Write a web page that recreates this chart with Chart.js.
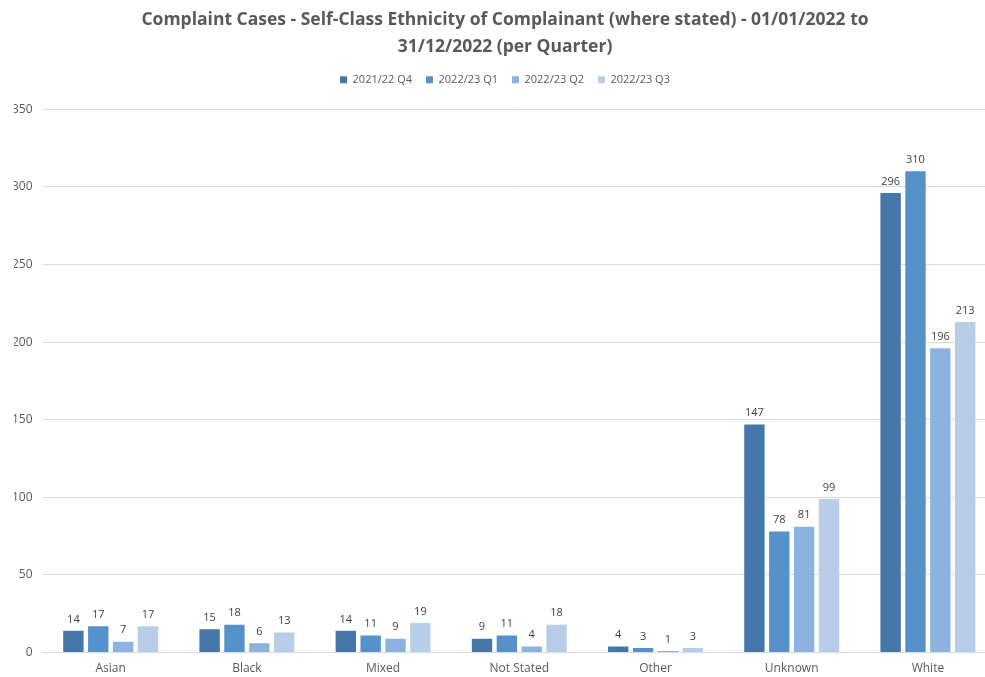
<!DOCTYPE html>
<html>
<head>
<meta charset="utf-8">
<script src="https://cdn.jsdelivr.net/npm/chart.js@4"></script>
<style>
	html, body { margin: 0; padding: 0; background: #fff; }
	#wrap { width: 985px; height: 677px; overflow: hidden; }
</style>
</head>
<body>
<div id="wrap"><canvas id="complaintsChart" width="1024" height="686"></canvas></div>
<script>
const categories = ["Asian", "Black", "Mixed", "Not Stated", "Other", "Unknown", "White"];
const seriesNames = ["2021/22 Q4", "2022/23 Q1", "2022/23 Q2", "2022/23 Q3"];
const q4_2122 = [14, 15, 14, 9, 4, 147, 296];
const q1_2223 = [17, 18, 11, 11, 3, 78, 310];
const q2_2223 = [7, 6, 9, 4, 1, 81, 196];
const q3_2223 = [17, 13, 19, 18, 3, 99, 213];
const seriesColours = ["#4677aa", "#5591ca", "#8cb3e0", "#b8cde8"];

const fontFamily = "'Open Sans', 'Noto Sans', sans-serif";

// draw the value above each bar
const barValueLabels = {
	id: "barValueLabels",
	afterDatasetsDraw(chart) {
		const ctx = chart.ctx;
		ctx.save();
		ctx.font = "11px " + fontFamily;
		ctx.fillStyle = "#404040";
		ctx.textAlign = "center";
		ctx.textBaseline = "bottom";
		chart.data.datasets.forEach((dataset, i) => {
			const meta = chart.getDatasetMeta(i);
			meta.data.forEach((bar, j) => {
				ctx.fillText(dataset.data[j], bar.x, bar.y - 6);
			});
		});
		ctx.restore();
	},
};

// extra room between the legend and the plot
const legendMargin = {
	id: "legendMargin",
	beforeInit(chart) {
		const originalFit = chart.legend.fit;
		chart.legend.fit = function () {
			originalFit.bind(chart.legend)();
			this.height += 14;
		};
	},
};

const allSeries = [q4_2122, q1_2223, q2_2223, q3_2223];

const ctx = document.getElementById("complaintsChart").getContext("2d");
new Chart(ctx, {
	type: "bar",
	data: {
		labels: categories,
		datasets: allSeries.map((values, i) => ({
			label: seriesNames[i],
			data: values,
			backgroundColor: seriesColours[i],
			categoryPercentage: 0.73,
			barPercentage: 0.82,
		})),
	},
	options: {
		responsive: false,
		animation: false,
		layout: { padding: { left: 14, right: 28, top: 4, bottom: 1 } },
		plugins: {
			title: {
				display: true,
				text: [
					"Complaint Cases - Self-Class Ethnicity of Complainant (where stated) - 01/01/2022 to",
					"31/12/2022 (per Quarter)",
				],
				color: "#595959",
				font: { family: fontFamily, size: 17.5, weight: "bold", lineHeight: 1.55 },
				padding: { top: 2, bottom: 0 },
			},
			legend: {
				position: "top",
				labels: {
					boxWidth: 7,
					boxHeight: 7,
					padding: 14,
					color: "#595959",
					font: { family: fontFamily, size: 11 },
				},
			},
			tooltip: { enabled: false },
		},
		scales: {
			x: {
				grid: { display: false, drawTicks: false },
				border: { color: "#d9d9d9" },
				ticks: { color: "#595959", padding: 9, font: { family: fontFamily, size: 12 } },
			},
			y: {
				min: 0,
				max: 350,
				afterFit(scale) {
					scale.width -= 12;
				},
				ticks: {
					stepSize: 50,
					color: "#595959",
					padding: 10,
					font: { family: fontFamily, size: 12 },
				},
				grid: { color: "#d9d9d9", drawTicks: false },
				border: { display: false },
			},
		},
	},
	plugins: [barValueLabels, legendMargin],
});
</script>
</body>
</html>
